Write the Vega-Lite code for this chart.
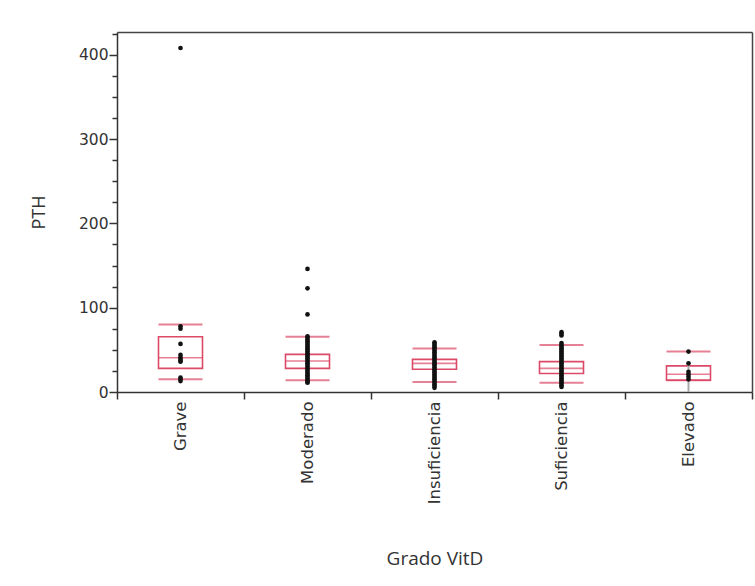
{
  "$schema": "https://vega.github.io/schema/vega-lite/v6.json",
  "width": 635,
  "height": 360,
  "autosize": {"type": "none"},
  "padding": {"left": 117, "top": 32, "right": 3, "bottom": 194},
  "background": "white",
  "config": {
    "view": {"stroke": null},
    "axis": {"labelFont": "DejaVu Sans", "titleFont": "Open Sans", "labelColor": "#333", "titleColor": "#333", "domainColor": "#333", "tickColor": "#333", "domainWidth": 1.5, "tickWidth": 1.5, "grid": false}
  },
  "resolve": {"axis": {"x": "independent", "y": "independent"}},
  "datasets": {
    "mean": [{"m": 33, "cat": "Elevado"}],
    "boxes": [
      {"cat": "Grave", "p10": 15, "q1": 28, "med": 40.6, "q3": 65.5, "p90": 80},
      {"cat": "Moderado", "p10": 14, "q1": 28, "med": 36.7, "q3": 44.6, "p90": 65.5},
      {"cat": "Insuficiencia", "p10": 12, "q1": 27, "med": 34, "q3": 38.7, "p90": 51.7},
      {"cat": "Suficiencia", "p10": 11, "q1": 22, "med": 28, "q3": 36, "p90": 55.6},
      {"cat": "Elevado", "p10": 14, "q1": 14, "med": 21, "q3": 31, "p90": 48}
    ],
    "pts": [
      {"cat": "Grave", "PTH": 408}, {"cat": "Grave", "PTH": 78}, {"cat": "Grave", "PTH": 75}, {"cat": "Grave", "PTH": 57},
      {"cat": "Grave", "PTH": 44}, {"cat": "Grave", "PTH": 41}, {"cat": "Grave", "PTH": 39}, {"cat": "Grave", "PTH": 37},
      {"cat": "Grave", "PTH": 36}, {"cat": "Grave", "PTH": 17}, {"cat": "Grave", "PTH": 15}, {"cat": "Grave", "PTH": 13},
      {"cat": "Moderado", "PTH": 146}, {"cat": "Moderado", "PTH": 123}, {"cat": "Moderado", "PTH": 92},
      {"cat": "Moderado", "PTH": 66}, {"cat": "Moderado", "PTH": 64}, {"cat": "Moderado", "PTH": 62}, {"cat": "Moderado", "PTH": 60},
      {"cat": "Moderado", "PTH": 58}, {"cat": "Moderado", "PTH": 56}, {"cat": "Moderado", "PTH": 54}, {"cat": "Moderado", "PTH": 52},
      {"cat": "Moderado", "PTH": 50}, {"cat": "Moderado", "PTH": 48}, {"cat": "Moderado", "PTH": 46}, {"cat": "Moderado", "PTH": 44},
      {"cat": "Moderado", "PTH": 42}, {"cat": "Moderado", "PTH": 40}, {"cat": "Moderado", "PTH": 38}, {"cat": "Moderado", "PTH": 36},
      {"cat": "Moderado", "PTH": 34}, {"cat": "Moderado", "PTH": 32}, {"cat": "Moderado", "PTH": 30}, {"cat": "Moderado", "PTH": 28},
      {"cat": "Moderado", "PTH": 26}, {"cat": "Moderado", "PTH": 24}, {"cat": "Moderado", "PTH": 22}, {"cat": "Moderado", "PTH": 20},
      {"cat": "Moderado", "PTH": 18}, {"cat": "Moderado", "PTH": 16}, {"cat": "Moderado", "PTH": 14}, {"cat": "Moderado", "PTH": 12},
      {"cat": "Moderado", "PTH": 11},
      {"cat": "Insuficiencia", "PTH": 59}, {"cat": "Insuficiencia", "PTH": 57}, {"cat": "Insuficiencia", "PTH": 55}, {"cat": "Insuficiencia", "PTH": 53},
      {"cat": "Insuficiencia", "PTH": 51}, {"cat": "Insuficiencia", "PTH": 49}, {"cat": "Insuficiencia", "PTH": 47}, {"cat": "Insuficiencia", "PTH": 45},
      {"cat": "Insuficiencia", "PTH": 43}, {"cat": "Insuficiencia", "PTH": 41}, {"cat": "Insuficiencia", "PTH": 39}, {"cat": "Insuficiencia", "PTH": 37},
      {"cat": "Insuficiencia", "PTH": 35}, {"cat": "Insuficiencia", "PTH": 33}, {"cat": "Insuficiencia", "PTH": 31}, {"cat": "Insuficiencia", "PTH": 29},
      {"cat": "Insuficiencia", "PTH": 27}, {"cat": "Insuficiencia", "PTH": 25}, {"cat": "Insuficiencia", "PTH": 23}, {"cat": "Insuficiencia", "PTH": 21},
      {"cat": "Insuficiencia", "PTH": 19}, {"cat": "Insuficiencia", "PTH": 17}, {"cat": "Insuficiencia", "PTH": 15}, {"cat": "Insuficiencia", "PTH": 13},
      {"cat": "Insuficiencia", "PTH": 11}, {"cat": "Insuficiencia", "PTH": 9}, {"cat": "Insuficiencia", "PTH": 7}, {"cat": "Insuficiencia", "PTH": 5},
      {"cat": "Suficiencia", "PTH": 71}, {"cat": "Suficiencia", "PTH": 69}, {"cat": "Suficiencia", "PTH": 67},
      {"cat": "Suficiencia", "PTH": 58}, {"cat": "Suficiencia", "PTH": 56}, {"cat": "Suficiencia", "PTH": 54}, {"cat": "Suficiencia", "PTH": 52},
      {"cat": "Suficiencia", "PTH": 50}, {"cat": "Suficiencia", "PTH": 48}, {"cat": "Suficiencia", "PTH": 46}, {"cat": "Suficiencia", "PTH": 44},
      {"cat": "Suficiencia", "PTH": 42}, {"cat": "Suficiencia", "PTH": 40}, {"cat": "Suficiencia", "PTH": 38}, {"cat": "Suficiencia", "PTH": 36},
      {"cat": "Suficiencia", "PTH": 34}, {"cat": "Suficiencia", "PTH": 32}, {"cat": "Suficiencia", "PTH": 30}, {"cat": "Suficiencia", "PTH": 28},
      {"cat": "Suficiencia", "PTH": 26}, {"cat": "Suficiencia", "PTH": 24}, {"cat": "Suficiencia", "PTH": 22}, {"cat": "Suficiencia", "PTH": 20},
      {"cat": "Suficiencia", "PTH": 18}, {"cat": "Suficiencia", "PTH": 16}, {"cat": "Suficiencia", "PTH": 14}, {"cat": "Suficiencia", "PTH": 12},
      {"cat": "Suficiencia", "PTH": 10}, {"cat": "Suficiencia", "PTH": 8}, {"cat": "Suficiencia", "PTH": 6},
      {"cat": "Elevado", "PTH": 48}, {"cat": "Elevado", "PTH": 34}, {"cat": "Elevado", "PTH": 24}, {"cat": "Elevado", "PTH": 21},
      {"cat": "Elevado", "PTH": 18}, {"cat": "Elevado", "PTH": 15}
    ]
  },
  "layer": [
    {
      "data": {"name": "boxes"},
      "mark": {"type": "bar", "fill": null, "fillOpacity": 0, "stroke": "#dc4a68", "strokeWidth": 1.6, "width": 44},
      "encoding": {
        "x": {
          "field": "cat", "type": "nominal",
          "sort": ["Grave", "Moderado", "Insuficiencia", "Suficiencia", "Elevado"],
          "scale": {"domain": ["Grave", "Moderado", "Insuficiencia", "Suficiencia", "Elevado"], "paddingInner": 0, "paddingOuter": 0},
          "axis": {"orient": "bottom", "title": "Grado VitD", "titleFontSize": 19, "titleFontWeight": "normal", "titleFont": "Open Sans", "titlePadding": 46, "labelAngle": -90, "labelAlign": "right", "labelBaseline": "middle", "labelFont": "DejaVu Sans", "labelFontSize": 16.5, "labelPadding": 2, "tickBand": "extent", "tickSize": 7}
        },
        "y": {"field": "q1", "type": "quantitative", "scale": {"domain": [0, 427], "nice": false},
          "axis": {"orient": "left", "title": "PTH", "titleFontSize": 18, "titleFontWeight": "normal", "titleFont": "Open Sans", "titlePadding": 30, "labelFont": "DejaVu Sans", "labelFontSize": 15.5, "labelPadding": 1,
            "values": [0, 25, 50, 75, 100, 125, 150, 175, 200, 225, 250, 275, 300, 325, 350, 375, 400, 425],
            "labelExpr": "datum.value % 100 === 0 ? datum.label : ''",
            "tickSize": {"condition": {"test": "datum.value % 100 === 0", "value": 8}, "value": 5}}},
        "y2": {"field": "q3"}
      }
    },
    {
      "data": {"name": "mean"},
      "mark": {"type": "rule", "color": "#a8a8a8", "strokeWidth": 2},
      "encoding": {
        "x": {"field": "cat", "type": "nominal", "axis": {"orient": "top", "title": null, "labels": false, "ticks": false, "domain": true, "domainColor": "#444", "domainWidth": 1.5}},
        "y": {"field": "m", "type": "quantitative", "axis": {"orient": "right", "title": null, "labels": false, "ticks": false, "domain": true, "domainColor": "#444", "domainWidth": 1.5}},
        "x2": null
      }
    },
    {
      "data": {"name": "boxes"},
      "mark": {"type": "tick", "color": "#dc4a68", "thickness": 1.6, "size": 44},
      "encoding": {"x": {"field": "cat", "type": "nominal", "axis": null}, "y": {"field": "med", "type": "quantitative", "axis": null}}
    },
    {
      "data": {"name": "boxes"},
      "mark": {"type": "tick", "color": "#dc4a68", "thickness": 2, "size": 44},
      "encoding": {"x": {"field": "cat", "type": "nominal", "axis": null}, "y": {"field": "p10", "type": "quantitative", "axis": null}}
    },
    {
      "data": {"name": "boxes"},
      "mark": {"type": "tick", "color": "#dc4a68", "thickness": 2, "size": 44},
      "encoding": {"x": {"field": "cat", "type": "nominal", "axis": null}, "y": {"field": "p90", "type": "quantitative", "axis": null}}
    },
    {
      "data": {"name": "pts"},
      "mark": {"type": "point", "filled": true, "color": "#111", "opacity": 1, "size": 22},
      "encoding": {"x": {"field": "cat", "type": "nominal", "axis": null}, "y": {"field": "PTH", "type": "quantitative", "axis": null}}
    }
  ]
}
